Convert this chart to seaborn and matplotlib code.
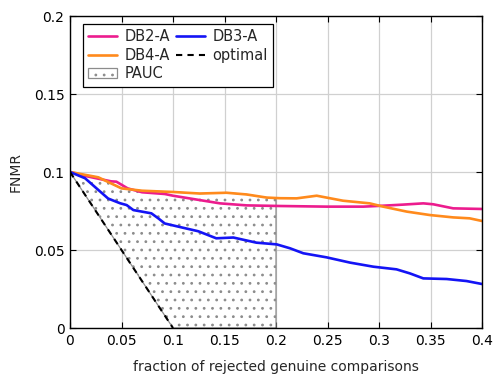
import numpy as np
import pandas as pd
import matplotlib
matplotlib.use("Agg")
import matplotlib.pyplot as plt
import seaborn as sns
from matplotlib.lines import Line2D
from matplotlib.patches import Patch

# ---- data ----
db2_x = [0.0, 0.0146, 0.0275, 0.040, 0.045, 0.056, 0.070, 0.092, 0.100, 0.126, 0.1456, 0.1715, 0.204,
         0.249, 0.285, 0.304, 0.3236, 0.343, 0.3527, 0.372, 0.400]
db2_y = [0.100, 0.0975, 0.0957, 0.094, 0.0938, 0.0895, 0.0870, 0.0859, 0.0848, 0.0820, 0.0799, 0.0786, 0.0782,
         0.0778, 0.0778, 0.0784, 0.0791, 0.0799, 0.0793, 0.0767, 0.0763]

db3_x = [0.0, 0.0146, 0.0275, 0.037, 0.0485, 0.055, 0.0615, 0.079, 0.0857, 0.092, 0.105, 0.1246, 0.142,
         0.1586, 0.181, 0.2007, 0.2136, 0.2265, 0.249, 0.272, 0.2945, 0.317, 0.330, 0.343, 0.3657, 0.385, 0.400]
db3_y = [0.100, 0.096, 0.0885, 0.083, 0.080, 0.0788, 0.0756, 0.0735, 0.0703, 0.0670, 0.0650, 0.0620, 0.0575,
         0.0580, 0.0547, 0.0536, 0.0511, 0.0479, 0.0453, 0.0419, 0.0393, 0.0376, 0.0350, 0.0318, 0.0314, 0.0301, 0.0282]

db4_x = [0.0, 0.0275, 0.050, 0.070, 0.092, 0.100, 0.126, 0.152, 0.1715, 0.191, 0.204, 0.220, 0.2395,
         0.265, 0.291, 0.304, 0.327, 0.3495, 0.372, 0.388, 0.400]
db4_y = [0.100, 0.0966, 0.0895, 0.0880, 0.0874, 0.0872, 0.0862, 0.0867, 0.0856, 0.0836, 0.0832, 0.0831, 0.0848,
         0.0816, 0.0799, 0.0778, 0.0746, 0.0724, 0.0709, 0.0703, 0.0686]

opt_x = [0.0, 0.1, 0.4]
opt_y = [0.1, 0.0, 0.0]

pauc_limit = 0.2

x_ticks = [0, 0.05, 0.1, 0.15, 0.2, 0.25, 0.3, 0.35, 0.4]
x_labels = ["0", "0.05", "0.1", "0.15", "0.2", "0.25", "0.3", "0.35", "0.4"]
y_ticks = [0, 0.05, 0.1, 0.15, 0.2]
y_labels = ["0", "0.05", "0.1", "0.15", "0.2"]

c_db2 = "#EC1C8E"
c_db3 = "#1414F5"
c_db4 = "#FF8A1C"

sns.set_theme(style="ticks")
plt.rcParams["font.family"] = ["DejaVu Sans"]
plt.rcParams["hatch.color"] = "#8c8c8c"
plt.rcParams["hatch.linewidth"] = 0.8

fig = plt.figure(figsize=(4.93, 3.74), dpi=100)
ax = fig.add_axes([70 / 493, 1 - 328 / 374, 412 / 493, 312 / 374])

# PAUC region
xs = np.linspace(0, pauc_limit, 400)
upper = np.interp(xs, db4_x, db4_y)
lower = np.interp(xs, opt_x, opt_y)
ax.fill_between(xs, lower, upper, facecolor="white", edgecolor="#8c8c8c",
                hatch="..", linewidth=0.9, zorder=1)

lw = 1.9
kw = dict(solid_joinstyle="round", solid_capstyle="round", zorder=3)
sns.lineplot(x=db2_x, y=db2_y, ax=ax, color=c_db2, lw=lw, **kw)
sns.lineplot(x=db4_x, y=db4_y, ax=ax, color=c_db4, lw=lw, **kw)
sns.lineplot(x=db3_x, y=db3_y, ax=ax, color=c_db3, lw=lw, **kw)
sns.lineplot(x=opt_x[:2], y=opt_y[:2], ax=ax, color="black", lw=1.5,
             linestyle=(0, (3, 2.5)), zorder=4)

ax.set_xlim(0, 0.4)
ax.set_ylim(0, 0.2)
ax.set_xticks(x_ticks)
ax.set_xticklabels(x_labels)
ax.set_yticks(y_ticks)
ax.set_yticklabels(y_labels)
ax.grid(True, color="#d0d0d0", lw=0.9, zorder=0)
ax.set_axisbelow(True)
ax.tick_params(direction="in", top=True, right=True, length=4, width=0.8,
               labelsize=10, colors="black", pad=4)
for s in ax.spines.values():
    s.set_color("black")
    s.set_linewidth(1.0)
    s.set_zorder(5)

ax.set_xlabel("fraction of rejected genuine comparisons", fontsize=10, labelpad=9)
ax.set_ylabel("FNMR", fontsize=10, labelpad=8)

handles = [
    Line2D([], [], color=c_db2, lw=lw),
    Line2D([], [], color=c_db4, lw=lw),
    Patch(facecolor="white", edgecolor="#8c8c8c", hatch="..", linewidth=0.9),
    Line2D([], [], color=c_db3, lw=lw),
    Line2D([], [], color="black", lw=1.5, linestyle=(0, (3, 2.5))),
]
labels = ["DB2-A", "DB4-A", "PAUC", "DB3-A", "optimal"]
leg = ax.legend(handles, labels, ncol=2, loc="upper left",
                bbox_to_anchor=(13 / 412, 1 - 8 / 312), fontsize=10.5,
                frameon=True, fancybox=False, framealpha=1, edgecolor="black",
                handlelength=2.0, handletextpad=0.5, columnspacing=0.4,
                labelspacing=0.25, borderpad=0.35, borderaxespad=0)
leg.get_frame().set_linewidth(0.9)
leg.set_zorder(10)

fig.savefig("out.png", dpi=100)
